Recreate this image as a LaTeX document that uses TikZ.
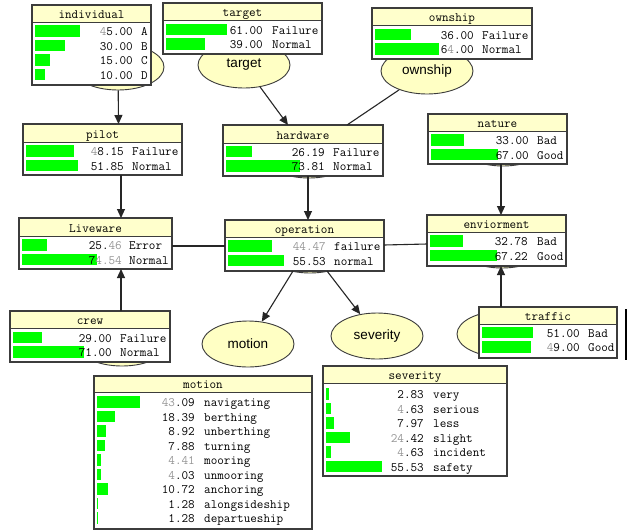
\documentclass[tikz,border=0pt]{standalone}
\usepackage{fontspec}
\newfontfamily\ellfont{Liberation Sans}
\usetikzlibrary{shapes.geometric,arrows.meta}
\definecolor{barg}{RGB}{0,255,0}
\definecolor{ttl}{RGB}{255,255,204}
\definecolor{ellf}{RGB}{255,255,196}
\definecolor{edgec}{RGB}{60,60,60}
\definecolor{lgr}{RGB}{150,150,150}
\newcommand\gd[1]{\textcolor{lgr}{#1}}
\tikzset{
  x=1pt, y=1pt,
  boxbase/.style={rectangle, fill=white, inner sep=0pt, outer sep=0pt, anchor=north west},
  txt/.style={font=\fontsize{12.8}{14}\selectfont\ttfamily\addfontfeatures{FakeBold=0.6}, inner sep=0pt, text=black},
  ell/.style={ellipse, draw=edgec, fill=ellf, line width=0.9pt, minimum width=92pt, minimum height=46pt, inner sep=0pt, font=\ellfont\fontsize{13.5}{15}\selectfont},
  conn/.style={draw=black!85, line width=1.1pt},
  arr/.style={conn, -{Triangle[length=9pt,width=8pt]}}
}
\newcommand\nbox[7]{%
  \node[boxbase, minimum width={#4-#2}, minimum height={#5-#3}] (#1) at (#2,-#3) {};
  \fill[ttl] (#2,-#3) rectangle (#4,-#6);
  \draw[edgec, line width=1pt] (#2,-#6) -- (#4,-#6);
  \node[txt, anchor=base] (#1-title) at ({(#2+#4)/2},{-#6+4}) {#7};
  \gdef\curname{#1}\gdef\curL{#2}}
\newcommand\nrows[4]{%
  \foreach \rowv/\rownum/\rowst [count=\i from 0] in {#4} {
    \pgfmathsetmacro\yy{#3+14.5*\i}
    \fill[barg] ({\curL+3},{-\yy+5.75}) rectangle ++(\rowv,-11.5);
    \node[txt, anchor=base east] (\curname-n\i) at (#1,{-\yy-4.5}) {\rownum};
    \node[txt, anchor=base west] (\curname-s\i) at (#2,{-\yy-4.5}) {\rowst};
  }}
\newcommand\nend[1]{\draw[edgec, line width=1.1pt] (#1.north west) rectangle (#1.south east);}
\begin{document}
\begin{tikzpicture}
\fill[white] (0,0) rectangle (627,-531);
\useasboundingbox (0,0) rectangle (627,-531);

% ellipses
\node[ell] (indE) at (118,-67) {};
\node[ell] (targetE) at (244,-65) {target};
\node[ell] (ownE) at (427,-71) {ownship};
\node[ell] (hwE) at (309,-155) {};
\node[ell] (opE) at (310,-250) {};
\node[ell] (natE) at (503,-143) {};
\node[ell] (envE) at (502,-245) {};
\node[ell] (crewE) at (122,-343) {};
\node[ell] (trafE) at (503,-334) {};
\node[ell] (motE) at (248,-344) {motion};
\node[ell] (sevE) at (377,-336) {severity};

% boxes
\nbox{ind}{32}{5}{151}{85}{22}{individual}
\nrows{133}{141}{31}{45/\gd{4}5.00/A, 30/30.00/B, 15/15.00/C, 10/10.00/D}
\nend{ind}

\nbox{tgt}{163}{3}{322}{54}{20}{target}
\nrows{263}{272}{29.5}{61/61.00/Failure, 39/39.00/Normal}
\nend{tgt}

\nbox{own}{372}{8}{532}{59}{25}{ownship}
\nrows{474}{482}{34.5}{36/36.00/Failure, 64/6\gd{4}.00/Normal}
\nend{own}

\nbox{pilot}{23}{124}{182}{175}{142}{pilot}
\nrows{124}{132}{151}{48.15/\gd{4}8.15/Failure, 51.85/51.85/Normal}
\nend{pilot}

\nbox{hw}{223}{125}{383}{176}{143}{hardware}
\nrows{325}{333}{151.5}{26.19/26.19/Failure, 73.81/73.81/Normal}
\nend{hw}

\nbox{nat}{428}{114}{567}{164}{131}{nature}
\nrows{529}{537}{140}{33/33.00/Bad, 67/67.00/Good}
\nend{nat}

\nbox{live}{19}{218}{172}{269}{236}{Liveware}
\nrows{122}{129}{245}{25.46/25.\gd{46}/Error, 74.54/7\gd{4.54}/Normal}
\nend{live}

\nbox{op}{225}{220}{384}{271}{237}{operation}
\nrows{326}{334}{246}{44.47/\gd{44.47}/failure, 55.53/55.53/normal}
\nend{op}

\nbox{env}{427}{215}{566}{266}{232}{enviorment}
\nrows{528}{537}{241}{32.78/32.78/Bad, 67.22/67.22/Good}
\nend{env}

\nbox{crew}{10}{311}{170}{362}{328}{crew}
\nrows{112}{120}{337.5}{29/29.00/Failure, 71/71.00/Normal}
\nend{crew}

\nbox{traf}{479}{307}{617}{358}{324}{traffic}
\nrows{580}{588}{332.5}{51/51.00/Bad, 49/\gd{4}9.00/Good}
\nend{traf}
\draw[black, line width=1.5pt] (626,-309) -- (626,-360);

\nbox{mot}{94}{376}{312}{529}{392}{motion}
\nrows{195}{204}{402}{43.09/\gd{43}.09/navigating, 18.39/18.39/berthing, 8.92/8.92/unberthing, 7.88/7.88/turning, 4.41/\gd{4.41}/mooring, 4.03/\gd{4}.03/unmooring, 10.72/10.72/anchoring, 1.28/1.28/alongsideship, 1.28/1.28/departueship}
\nend{mot}

\nbox{sev}{323}{366}{507}{476}{383}{severity}
\nrows{424}{433}{394}{2.83/2.83/very, 4.63/\gd{4}.63/serious, 7.97/7.97/less, 24.42/\gd{24}.42/slight, 4.63/\gd{4}.63/incident, 55.53/55.53/safety}
\nend{sev}

% connectors
\draw[arr] (indE) -- ([xshift=16pt]pilot.north);
\draw[arr] ([xshift=18.5pt]pilot.south) -- ([xshift=25.5pt]live.north);
\draw[arr] ([xshift=31pt]crew.north) -- ([xshift=25.5pt]live.south);
\draw[arr] (targetE) -- ([xshift=-15pt]hw.north);
\draw[conn] (ownE) -- ([xshift=44pt]hw.north);
\draw[arr] ([xshift=5pt]hw.south) -- ([xshift=3.5pt]op.north);
\draw[conn] ([yshift=-2.5pt]live.east) -- ([yshift=-0.5pt]op.west);
\draw[conn] ([yshift=0.5pt]op.east) -- ([yshift=-3.5pt]env.west);
\draw[arr] ([xshift=3.5pt]nat.south) -- ([xshift=4.5pt]env.north);
\draw[arr] ([xshift=-47pt]traf.north) -- ([xshift=4.5pt]env.south);
\draw[arr] ([xshift=-11.5pt]op.south) -- (motE);
\draw[arr] ([xshift=22.5pt]op.south) -- (sevE);
\end{tikzpicture}
\end{document}
